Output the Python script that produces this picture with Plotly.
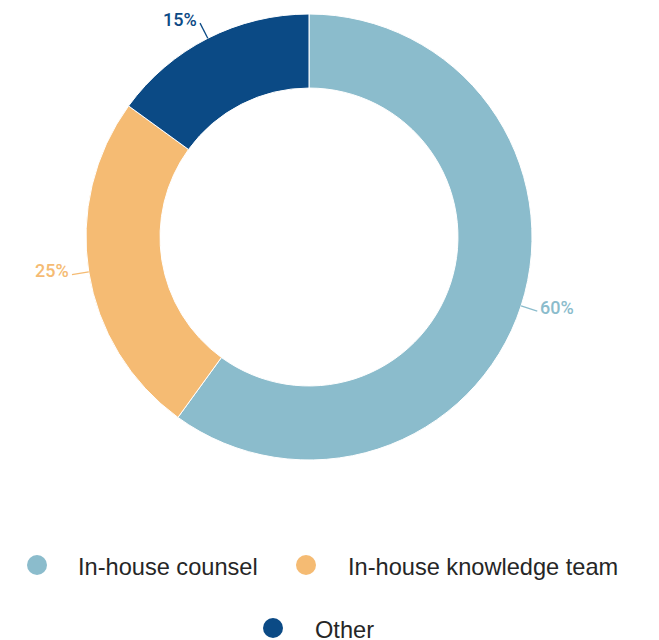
import math
import plotly.graph_objects as go

# ---- data ----
categories = ["In-house counsel", "In-house knowledge team", "Other"]
values = [60, 25, 15]
value_labels = ["60%", "25%", "15%"]
colors = ["#8bbccc", "#f5bb73", "#0b4a85"]

W, H = 659, 640
OFF = 8                     # page body margin
CX, CY, R = 309 - OFF, 237 - OFF, 223   # pie centre / radius in px
HOLE = 0.668
EXT = 17                    # leader line length px

def px2paper(x, y):
    return x / W, 1 - y / H

fig = go.Figure()
fig.add_trace(go.Pie(
    labels=categories, values=values, sort=False, direction="clockwise",
    rotation=0, hole=HOLE, textinfo="none", hoverinfo="label+percent",
    marker=dict(colors=colors, line=dict(color="white", width=1)),
    domain=dict(x=[(CX - R) / W, (CX + R) / W], y=[1 - (CY + R) / H, 1 - (CY - R) / H]),
    showlegend=False,
))

shapes = []
annotations = []
total = sum(values)
cum = 0
for v, lab, col in zip(values, value_labels, colors):
    mid = (cum + v / 2) / total * 2 * math.pi
    cum += v
    s, c = math.sin(mid), math.cos(mid)
    x0, y0 = CX + R * s, CY - R * c
    x1, y1 = CX + (R + EXT) * s, CY - (R + EXT) * c
    p0 = px2paper(x0, y0)
    p1 = px2paper(x1, y1)
    shapes.append(dict(type="line", xref="paper", yref="paper", x0=p0[0], y0=p0[1],
                       x1=p1[0], y1=p1[1], line=dict(color=col, width=1.3)))
    right = s > 0
    annotations.append(dict(xref="paper", yref="paper", x=p1[0], y=p1[1], text=lab,
                            showarrow=False, xanchor="left" if right else "right",
                            yanchor="middle", xshift=1 if right else -1, yshift=4,
                            font=dict(family="Roboto", size=18, color=col, weight=500)))

# ---- custom legend ----
legend_items = [(37, 565, 76), (306, 565, 346), (273, 628, 313)]
for (mx, my, tx), name, col in zip(legend_items, categories, colors):
    mx, my, tx = mx - OFF, my - OFF, tx - OFF
    r = 10
    a0 = px2paper(mx - r, my + r)
    a1 = px2paper(mx + r, my - r)
    shapes.append(dict(type="circle", xref="paper", yref="paper", x0=a0[0], y0=a0[1],
                       x1=a1[0], y1=a1[1], fillcolor=col, line=dict(width=0)))
    tp = px2paper(tx, my + 2)
    annotations.append(dict(xref="paper", yref="paper", x=tp[0], y=tp[1], text=name,
                            showarrow=False, xanchor="left", yanchor="middle",
                            font=dict(family="Liberation Sans, Arial", size=23.6, color="#262626")))

fig.update_layout(
    width=W, height=H, margin=dict(l=0, r=0, t=0, b=0),
    paper_bgcolor="white", plot_bgcolor="white",
    shapes=shapes, annotations=annotations, showlegend=False,
)
fig.write_html("out.html")
